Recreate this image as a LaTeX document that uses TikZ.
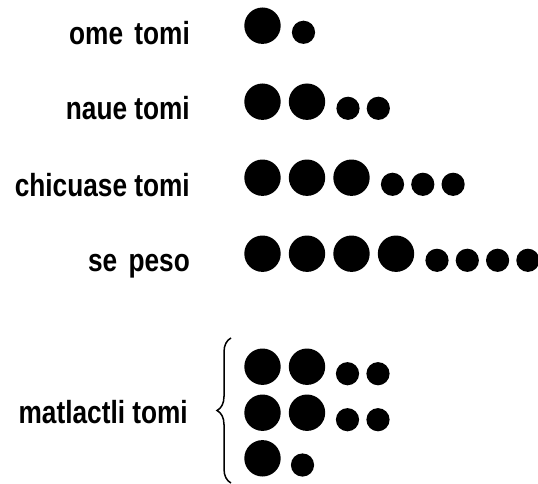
\documentclass[tikz,border=0pt]{standalone}
\usepackage{fontspec}
\setmainfont{Liberation Sans}[FakeStretch=0.82]
\usetikzlibrary{decorations.pathreplacing}

\tikzset{
  numword/.style={anchor=base east, inner sep=0pt, font=\bfseries\fontsize{32}{32}\selectfont},
  bigdot/.style={fill=black},
  smalldot/.style={fill=black}
}

\begin{document}
\begin{tikzpicture}[x=1pt,y=-1pt]
\useasboundingbox (0,0) rectangle (538,484);

\node[numword] (ome) at (190,44.5) {ome\hspace{4pt} tomi};
\node[numword] (naue) at (190,120) {naue tomi};
\node[numword] (chicuase) at (190,196) {chicuase tomi};
\node[numword] (sepeso) at (190,271.5) {se\hspace{4pt} peso};
\node[numword] (matlactli) at (188,423) {matlactli tomi};

% rows of one to four
\foreach \n in {1,...,4} {
  \pgfmathsetmacro{\yc}{25.7+76*(\n-1)}
  \foreach \i in {1,...,\n}
    \fill[bigdot] (262.5+44.5*\i-44.5,\yc) circle[radius=18.2pt];
  \foreach \j in {1,...,\n}
    \fill[smalldot] (262.5+44.5*\n-3.5+30.3*\j-30.3,\yc+6.6) circle[radius=11.6pt];
}

% ten = two + two + one
\foreach \yc in {366.7,412.7} {
  \fill[bigdot] (262.5,\yc) circle[radius=18.2pt];
  \fill[bigdot] (307,\yc) circle[radius=18.2pt];
  \fill[smalldot] (347.5,\yc+7) circle[radius=11.6pt];
  \fill[smalldot] (378,\yc+7) circle[radius=11.6pt];
}
\fill[bigdot] (262.5,458.3) circle[radius=18.2pt];
\fill[smalldot] (302.5,465) circle[radius=11.6pt];

\coordinate (bracetop) at (231,338);
\coordinate (bracebot) at (231,483);
\draw[line width=1.5pt, decorate, decoration={brace, amplitude=14pt}] (bracebot) -- (bracetop);
\end{tikzpicture}
\end{document}
